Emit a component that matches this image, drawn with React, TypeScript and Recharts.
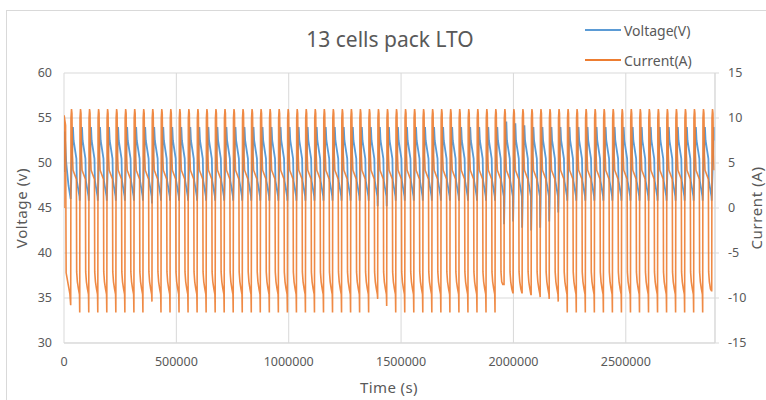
import { CartesianGrid, Line, LineChart, XAxis, YAxis } from 'recharts'

const FONT = '"Noto Sans", "Open Sans", sans-serif'
const TEXT = '#595959'
const GRID = '#d9d9d9'
const BLUE = '#5b9bd5'
const ORANGE = '#ed7d31'

const timeTicks = [0, 500000, 1000000, 1500000, 2000000, 2500000]
const voltageTicks = [30, 35, 40, 45, 50, 55, 60]
const currentTicks = [-15, -10, -5, 0, 5, 10, 15]
const timeMax = 2897000

// time (s) of the end of each discharge / start of the next charge
const cycleStart = [
  29800, 70000, 110200, 150400, 190500, 230700, 270900, 311100, 351200, 391400, 431600, 471800,
  511900, 552100, 592300, 632500, 672700, 712800, 753000, 793200, 833400, 873500, 913700, 953900,
  994100, 1034300, 1074400, 1114600, 1154800, 1195000, 1235100, 1275300, 1315500, 1355700, 1395800, 1436000,
  1476200, 1516400, 1556600, 1596700, 1636900, 1677100, 1717300, 1757400, 1797600, 1837800, 1878000, 1918100,
  1958300, 1998500, 2038700, 2078900, 2119000, 2159200, 2199400, 2239600, 2279700, 2319900, 2360100, 2400300,
  2440400, 2480600, 2520800, 2561000, 2601200, 2641300, 2681500, 2721700, 2761900, 2802000, 2842200, 2882400,
]

// lowest current (A) reached at each cycle start
const currentLow = [
  -10.8, -11.6, -11.6, -11.6, -11.6, -11.6, -11.6, -11.6, -11.6, -10.4, -11.6, -11.6,
  -11.6, -11.6, -11.6, -11.6, -11.6, -11.6, -11.6, -11.6, -11.6, -11.6, -11.6, -11.6,
  -11.6, -11.6, -11.6, -11.6, -11.6, -11.6, -11.6, -11.6, -11.6, -11.6, -10.1, -10.9,
  -11.6, -11.6, -11.6, -11.6, -11.6, -11.6, -11.6, -11.6, -11.6, -11.6, -11.6, -11.6,
  -8.5, -9.4, -9.4, -9.6, -9.9, -10.1, -10.4, -11.6, -11.6, -11.6, -11.6, -11.6,
  -11.6, -11.6, -11.6, -11.6, -11.6, -11.6, -11.6, -11.6, -11.6, -11.6, -11.6, -9.2,
]

// voltage (V) at the top of each charge
const voltageHigh = [
  54, 54, 54, 54, 54, 54, 54, 54, 54, 54, 54, 54,
  54, 54, 54, 54, 54, 54, 54, 54, 54, 54, 54, 54,
  54, 54, 54, 54, 54, 54, 54, 54, 54, 54, 54, 54,
  54, 54, 54, 54, 54, 54, 54, 54, 54, 54, 54, 54,
  54.6, 54.4, 54.2, 54, 54, 54, 54, 54, 54, 54, 54, 54,
  54, 54, 54, 54, 54, 54, 54, 54, 54, 54, 54, 54,
]

// voltage (V) at each cycle start
const voltageLow = [
  46, 45.8, 45.8, 45.8, 45.8, 45.8, 45.8, 45.8, 45.8, 45.5, 45.8, 45.8,
  45.8, 45.8, 45.8, 45.8, 45.8, 45.8, 45.8, 45.8, 45.8, 45.8, 45.8, 45.8,
  45.8, 45.8, 45.8, 45.8, 45.8, 45.8, 45.8, 45.8, 45.8, 45.8, 45.2, 45.2,
  45.8, 45.8, 45.8, 45.8, 45.8, 45.8, 45.8, 45.8, 45.8, 45.8, 45.8, 45.8,
  43.2, 43.5, 42.8, 42.5, 42.8, 43.5, 44.5, 45.8, 45.8, 45.8, 45.8, 45.8,
  45.8, 45.8, 45.8, 45.8, 45.8, 45.8, 45.8, 45.8, 45.8, 45.8, 45.8, 45.8,
]

// shape of one cycle, as fraction of the cycle -> value
const currentPhase = [0.03, 0.09, 0.14, 0.19, 0.26, 0.63, 0.66, 0.74, 0.86, 0.97]
const currentLevel = [10, 11, 10.5, 6, 4.2, 3.2, -7.1, -8.2, -9, -9.6]
const voltagePhase = [0.12, 0.25, 0.32, 0.63, 0.68, 0.97]
const voltageLevel = [50, 54, 52.5, 50.5, 48, 46.3]

// first part-cycle, before cycleStart[0]
const leadTime = [0, 600, 7000, 9500, 18000, 26000]
const leadCurrent = [0, 10.3, 9.2, -7.2, -8.4, -9.5]
const leadVoltTime = [0, 3000, 10000, 20000]
const leadVoltage = [49, 53.5, 50, 47.5]

type Pt = { t: number; v: number }

function buildCurrent(): Pt[] {
  const pts: Pt[] = leadTime.map((t, i) => ({ t, v: leadCurrent[i] }))
  cycleStart.forEach((start, k) => {
    const period = (cycleStart[k + 1] ?? start + 40177) - start
    const nextLow = currentLow[k + 1] ?? -11.6
    pts.push({ t: start, v: currentLow[k] })
    currentPhase.forEach((p, i) => {
      const level = currentLevel[i]
      pts.push({ t: start + p * period, v: level < 0 ? Math.max(level, nextLow) : level })
    })
  })
  return pts.filter((p) => p.t <= timeMax)
}

function buildVoltage(): Pt[] {
  const pts: Pt[] = leadVoltTime.map((t, i) => ({ t, v: leadVoltage[i] }))
  cycleStart.forEach((start, k) => {
    const period = (cycleStart[k + 1] ?? start + 40177) - start
    pts.push({ t: start, v: voltageLow[k] })
    voltagePhase.forEach((p, i) => {
      pts.push({ t: start + p * period, v: i === 1 ? voltageHigh[k] : voltageLevel[i] })
    })
  })
  return pts.filter((p) => p.t <= timeMax)
}

const currentData = buildCurrent()
const voltageData = buildVoltage()

const tickStyle = { fill: TEXT, fontSize: 12.5, fontFamily: FONT }

export default function App() {
  return (
    <div style={{ position: 'relative', width: 766, height: 400, overflow: 'hidden', background: '#fff', fontFamily: FONT }}>
      <style>{'body{margin:0}'}</style>
      <div style={{ position: 'absolute', left: 6, top: 10, width: 800, height: 420, border: `1px solid ${GRID}` }} />

      <div style={{ position: 'absolute', left: 290, top: 29, width: 200, textAlign: 'center', fontSize: 21, lineHeight: '21px', color: TEXT }}>
        13 cells pack LTO
      </div>

      {/* legend */}
      {[
        { name: 'Voltage(V)', color: BLUE, y: 30 },
        { name: 'Current(A)', color: ORANGE, y: 60 },
      ].map((s) => (
        <div key={s.name} style={{ position: 'absolute', left: 585, top: s.y - 10, height: 20, display: 'flex', alignItems: 'center', fontSize: 14, color: TEXT }}>
          <span style={{ display: 'inline-block', width: 36, height: 2.5, background: s.color, marginRight: 3 }} />
          {s.name}
        </div>
      ))}

      <div style={{ position: 'absolute', left: 21, top: 208, transform: 'translate(-50%, -50%) rotate(-90deg)', whiteSpace: 'nowrap', fontSize: 15, color: TEXT, letterSpacing: 0.6 }}>
        Voltage (v)
      </div>
      <div style={{ position: 'absolute', left: 756, top: 208, transform: 'translate(-50%, -50%) rotate(-90deg)', whiteSpace: 'nowrap', fontSize: 15, lineHeight: '16px', color: TEXT, letterSpacing: 0.6 }}>
        Current (A)
      </div>
      <div style={{ position: 'absolute', left: 389, top: 387, transform: 'translate(-50%, -50%)', whiteSpace: 'nowrap', fontSize: 15, color: TEXT, letterSpacing: 0.4 }}>
        Time (s)
      </div>

      <div style={{ position: 'absolute', left: 0, top: 0 }}>
        <LineChart width={766} height={400} margin={{ top: 73, right: 0, bottom: 27, left: 8 }}>
          <CartesianGrid stroke={GRID} yAxisId="left" />
          <XAxis
            dataKey="t"
            type="number"
            domain={[0, timeMax]}
            ticks={timeTicks}
            allowDataOverflow
            height={30}
            axisLine={{ stroke: GRID }}
            tickLine={false}
            tickSize={0}
            tickMargin={14}
            tick={tickStyle}
          />
          <YAxis
            yAxisId="left"
            domain={[30, 60]}
            ticks={voltageTicks}
            width={56}
            axisLine={false}
            tickLine={false}
            tickSize={0}
            tickMargin={12}
            tick={tickStyle}
          />
          <YAxis
            yAxisId="right"
            orientation="right"
            domain={[-15, 15]}
            ticks={currentTicks}
            width={51}
            axisLine={{ stroke: GRID }}
            tickLine={{ stroke: GRID }}
            tickSize={4}
            tickMargin={9}
            tick={tickStyle}
          />
          <Line
            yAxisId="left"
            data={voltageData}
            dataKey="v"
            name="Voltage(V)"
            type="linear"
            stroke={BLUE}
            strokeWidth={1.8}
            dot={false}
            isAnimationActive={false}
          />
          <Line
            yAxisId="right"
            data={currentData}
            dataKey="v"
            name="Current(A)"
            type="linear"
            stroke={ORANGE}
            strokeWidth={1.6}
            strokeOpacity={0.9}
            dot={false}
            isAnimationActive={false}
          />
        </LineChart>
      </div>
    </div>
  )
}
